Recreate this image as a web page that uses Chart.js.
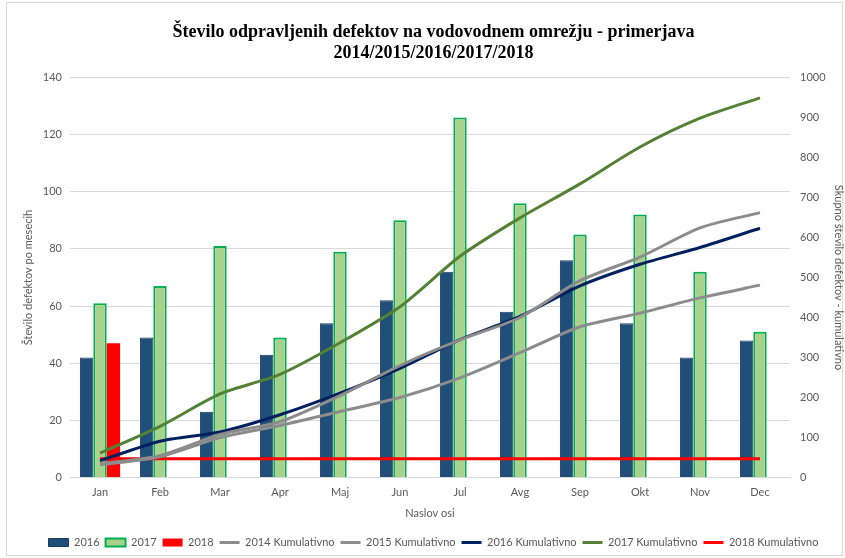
<!DOCTYPE html>
<html>
<head>
<meta charset="utf-8">
<script src="https://cdn.jsdelivr.net/npm/chart.js@4.4.1/dist/chart.umd.min.js"></script>
<style>
  body { margin: 0; background: #fff; }
  #wrap { position: absolute; left: 6px; top: 2px; width: 837px; height: 554px; border: 1px solid #d9d9d9; box-sizing: border-box; }
  #chart { position: absolute; left: 0; top: 0; }
</style>
</head>
<body>
<div id="wrap"></div>
<canvas id="chart" width="845" height="558"></canvas>
<script>
const months = ['Jan', 'Feb', 'Mar', 'Apr', 'Maj', 'Jun', 'Jul', 'Avg', 'Sep', 'Okt', 'Nov', 'Dec'];
const bars2016 = [42, 49, 23, 43, 54, 62, 72, 58, 76, 54, 42, 48];
const bars2017 = [61, 67, 81, 49, 79, 90, 126, 96, 85, 92, 72, 51];
const bars2018 = [47, null, null, null, null, null, null, null, null, null, null, null];
const kum2014 = [32, 52, 100, 130, 165, 200, 249, 312, 377, 411, 449, 481];
const kum2015 = [35, 55, 108, 140, 205, 280, 344, 400, 492, 551, 624, 662];
const kum2016 = [42, 91, 114, 157, 211, 273, 345, 403, 479, 533, 575, 623];
const kum2017 = [61, 128, 209, 258, 337, 427, 553, 649, 734, 826, 898, 949];
const kum2018 = [47, 47, 47, 47, 47, 47, 47, 47, 47, 47, 47, 47];

const tickFont = { family: 'Lato', size: 11 };
const tickColor = '#595959';

function lineSet(label, data, color) {
  return {
    type: 'line',
    label: label,
    data: data,
    yAxisID: 'y1',
    borderColor: color,
    backgroundColor: color,
    borderWidth: 3,
    pointRadius: 0,
    tension: 0.25,
    order: 0,
    pointStyle: 'line',
  };
}

const data = {
  labels: months,
  datasets: [
    {
      label: '2016',
      data: bars2016,
      backgroundColor: '#1f4e79',
      borderColor: '#1a3d63',
      borderWidth: 1,
      yAxisID: 'y',
      order: 1,
      pointStyle: 'rect',
    },
    {
      label: '2017',
      data: bars2017,
      backgroundColor: '#a9d18e',
      borderColor: '#00b050',
      borderWidth: 2,
      yAxisID: 'y',
      order: 1,
      pointStyle: 'rect',
    },
    {
      label: '2018',
      data: bars2018,
      backgroundColor: '#ff0000',
      borderColor: '#ff0000',
      borderWidth: 0,
      yAxisID: 'y',
      order: 1,
      pointStyle: 'rect',
    },
    lineSet('2014 Kumulativno', kum2014, '#8c8c8c'),
    lineSet('2015 Kumulativno', kum2015, '#8c8c8c'),
    lineSet('2016 Kumulativno', kum2016, '#002060'),
    lineSet('2017 Kumulativno', kum2017, '#548235'),
    lineSet('2018 Kumulativno', kum2018, '#ff0000'),
  ],
};

const config = {
  type: 'bar',
  data: data,
  options: {
    responsive: false,
    animation: false,
    layout: { padding: { left: 22, right: 0, top: 10, bottom: 0 } },
    datasets: {
      bar: { categoryPercentage: 0.67, barPercentage: 1.0 },
    },
    plugins: {
      title: {
        display: true,
        text: ['Število odpravljenih defektov na vodovodnem omrežju - primerjava', '2014/2015/2016/2017/2018'],
        font: { family: 'Liberation Serif', size: 18, weight: 'bold', lineHeight: 1.15 },
        color: '#000',
        padding: { top: 12, bottom: 14 },
      },
      legend: {
        position: 'bottom',
        labels: {
          usePointStyle: true,
          pointStyleWidth: 20,
          boxHeight: 8,
          boxWidth: 20,
          padding: 6,
          font: { family: 'Lato', size: 11 },
          color: tickColor,
          sort: (a, b) => a.datasetIndex - b.datasetIndex,
        },
      },
      tooltip: { enabled: false },
    },
    scales: {
      x: {
        grid: { display: false, drawTicks: false },
        border: { color: '#d9d9d9' },
        ticks: { font: tickFont, color: tickColor, padding: 8 },
        title: { display: true, text: 'Naslov osi', font: tickFont, color: tickColor, padding: { top: 0, bottom: 11 } },
      },
      y: {
        position: 'left',
        min: 0,
        max: 140,
        ticks: { stepSize: 20, font: tickFont, color: tickColor, padding: 8 },
        grid: { color: '#d9d9d9', drawTicks: false },
        border: { display: false },
        title: { display: true, text: 'Število defektov po mesecih', font: tickFont, color: tickColor, padding: 0 },
        afterFit: (scale) => { scale.width = 48; },
      },
      y1: {
        position: 'right',
        min: 0,
        max: 1000,
        ticks: { stepSize: 100, font: tickFont, color: tickColor, padding: 10, callback: (v) => String(v) },
        grid: { display: false, drawTicks: false },
        border: { display: false },
        title: { display: true, text: 'Skupno število defektov - kumulativno', font: tickFont, color: tickColor, padding: 0 },
        afterFit: (scale) => { scale.width = 55; },
      },
    },
  },
};

const myChart = new Chart(document.getElementById('chart'), config);
</script>
</body>
</html>
